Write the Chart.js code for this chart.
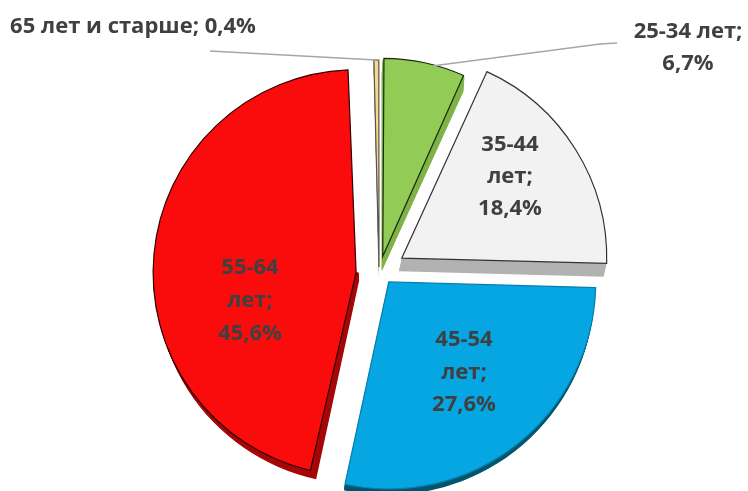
<!DOCTYPE html>
<html>
<head>
<meta charset="utf-8">
<script src="https://cdn.jsdelivr.net/npm/chart.js@4/dist/chart.umd.js"></script>
<style>
  html,body{margin:0;padding:0;background:#fff}
  #wrap{width:748px;height:491px;position:relative;overflow:hidden}
</style>
</head>
<body>
<div id="wrap"><canvas id="pie" width="748" height="491"></canvas></div>
<script>
// data
const categories = ['25-34 лет', '35-44 лет', '45-54 лет', '55-64 лет', '65 лет и старше'];
const shares = [6.7, 18.4, 27.6, 45.6, 0.4];

// looks
const fills = ['#92cb56', '#f2f2f2', '#05a6e2', '#fa0c0c', '#f6d88f'];
const edges = ['#1c2a10', '#333333', '#0a7fae', '#300000', '#555555'];
const sides = ['#7fb347', '#b2b2b2', '#00566f', '#a50808', '#c9ad6a'];
const offsets = [13, 28, 19, 24, 1];  // real explode in px (Chart.js draws offset/4)
const radii = [198, 205, 207, 203, 207];
const nudge = [[4, 1], [2, 5], [1, -1], [4, 7], [3, 0]];  // the 3D view moves slices off the common centre
const depth = [[-1, 15], [-3, 13], [-1, 6], [3, 8], [0, 10]];
const sideOnlyBelowApex = [false, false, false, true, false];

// text lines and where they sit: one entry per slice
const labelLines = [
  ['25-34 лет;', '6,7%'],
  ['35-44', 'лет;', '18,4%'],
  ['45-54', 'лет;', '27,6%'],
  ['55-64', 'лет;', '45,6%'],
  ['65 лет и старше; 0,4%']
];
const labelAt = [[688, 32, 32], [510, 145, 32], [464, 340, 32.5], [250, 268, 33], [133, 27, 0]];
const leaders = [
  [[617, 43], [600, 44], [432, 66]],
  [[210, 51], [376, 60]]
];

function apex(arc, i){
  const p = arc.getProps(['x', 'y', 'startAngle', 'endAngle']);
  const mid = (p.startAngle + p.endAngle) / 2;
  return [p.x + Math.cos(mid) * offsets[i], p.y + Math.sin(mid) * offsets[i]];
}

function sidePath(ctx, arc, i, dx, dy){
  const [ax, ay] = apex(arc, i);
  ctx.beginPath();
  ctx.moveTo(ax + dx, ay + dy);
  ctx.arc(ax + dx, ay + dy, radii[i], arc.startAngle, arc.endAngle);
  ctx.closePath();
}

// Chart.js grows narrow/wide arcs by offset*fix when exploded, take that back out
const placeArcs = {
  id: 'placeArcs',
  afterDatasetsUpdate(chart){
    chart.getDatasetMeta(0).data.forEach((arc, i) => {
      const fix = 1 - Math.sin(Math.min(Math.PI, arc.circumference));
      arc.outerRadius = radii[i] - offsets[i] * fix;
      arc.x += nudge[i][0];
      arc.y += nudge[i][1];
    });
  }
};

// extruded side of every slice, taken from the arc elements
const extrude = {
  id: 'extrude',
  beforeDatasetsDraw(chart){
    const ctx = chart.ctx;
    chart.getDatasetMeta(0).data.forEach((arc, i) => {
      const [dx, dy] = depth[i];
      ctx.save();
      if (sideOnlyBelowApex[i]) {
        ctx.beginPath();
        ctx.rect(0, apex(arc, i)[1], chart.width, chart.height);
        ctx.clip();
      }
      ctx.fillStyle = sides[i];
      const n = Math.max(Math.abs(dx), Math.abs(dy));
      for (let k = n; k > 0; k--) {
        sidePath(ctx, arc, i, dx * k / n, dy * k / n);
        ctx.fill();
      }
      ctx.restore();
    });
  }
};

const texts = {
  id: 'texts',
  afterDatasetsDraw(chart){
    const ctx = chart.ctx;
    ctx.save();
    ctx.strokeStyle = '#a6a6a6';
    ctx.lineWidth = 1.6;
    leaders.forEach(pts => {
      ctx.beginPath();
      pts.forEach((p, j) => j ? ctx.lineTo(p[0], p[1]) : ctx.moveTo(p[0], p[1]));
      ctx.stroke();
    });
    ctx.fillStyle = '#404040';
    ctx.font = 'bold 22px "Open Sans", "Noto Sans", sans-serif';
    ctx.textAlign = 'center';
    ctx.textBaseline = 'middle';
    labelLines.forEach((lines, i) => {
      const [x, y, step] = labelAt[i];
      lines.forEach((t, j) => ctx.fillText(t, x, y + j * step));
    });
    ctx.restore();
  }
};

new Chart(document.getElementById('pie').getContext('2d'), {
  type: 'pie',
  data: {
    labels: categories,
    datasets: [{
      data: shares,
      backgroundColor: fills,
      borderColor: edges,
      borderWidth: 1.2,
      borderJoinStyle: 'miter',
      offset: offsets.map(o => o * 4),
      radius: 203
    }]
  },
  options: {
    responsive: false,
    animation: false,
    layout: { padding: { top: 45, left: 4 } },
    plugins: { legend: { display: false }, tooltip: { enabled: false } }
  },
  plugins: [placeArcs, extrude, texts]
});
</script>
</body>
</html>
